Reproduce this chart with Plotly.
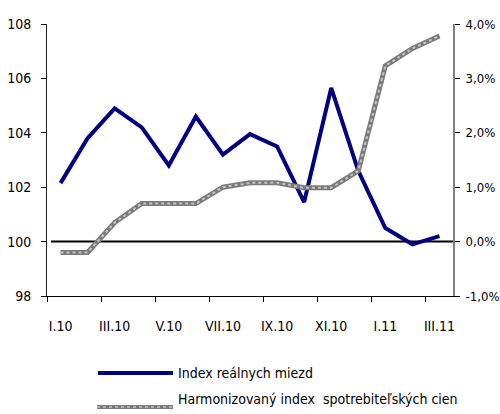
import plotly.graph_objects as go

months = ["I.10", "II.10", "III.10", "IV.10", "V.10", "VI.10", "VII.10", "VIII.10",
          "IX.10", "X.10", "XI.10", "XII.10", "I.11", "II.11", "III.11"]
real_wage_index = [102.15, 103.8, 104.9, 104.2, 102.8, 104.6, 103.2, 103.95,
                   103.5, 101.45, 105.65, 102.6, 100.5, 99.9, 100.2]
hicp_pct = [-0.2, -0.2, 0.35, 0.7, 0.7, 0.7, 1.0, 1.08, 1.08, 0.99, 0.99, 1.3,
            3.23, 3.55, 3.78]
left_ticks = [98, 100, 102, 104, 106, 108]
right_tickvals = [-1, 0, 1, 2, 3, 4]
right_ticktext = ["-1,0%", "0,0%", "1,0%", "2,0%", "3,0%", "4,0%"]
name_wage = "Index reálnych miezd"
name_hicp = "Harmonizovaný index  spotrebiteľských cien"

W, H = 500, 414
L, R, T, B = 47, 47, 24, 118
PW, PH = W - L - R, H - T - B


def px(x):
    return (x - L) / PW


def py(y):
    return (H - B - y) / PH


FONT = "DejaVu Sans Condensed"
FS = 14

fig = go.Figure()
fig.add_trace(go.Scatter(x=months, y=hicp_pct, yaxis="y2", mode="lines",
                         line=dict(color="#7a7a7a", width=5), showlegend=False,
                         hoverinfo="skip"))
fig.add_trace(go.Scatter(x=months, y=hicp_pct, yaxis="y2", mode="lines",
                         line=dict(color="#c4c4c4", width=2, dash="dot"),
                         name=name_hicp, showlegend=False))
fig.add_trace(go.Scatter(x=months, y=real_wage_index, mode="lines",
                         line=dict(color="#000080", width=4), name=name_wage,
                         showlegend=False))

fig.add_shape(type="line", xref="paper", yref="y", x0=px(51), x1=1.0, y0=100, y1=100,
              line=dict(color="black", width=2), layer="below")

# manual legend
fig.add_shape(type="line", xref="paper", yref="paper", x0=px(98), x1=px(173),
              y0=py(373), y1=py(373), line=dict(color="#000080", width=4))
fig.add_shape(type="line", xref="paper", yref="paper", x0=px(97), x1=px(173),
              y0=py(407), y1=py(407), line=dict(color="#7a7a7a", width=4))
fig.add_shape(type="line", xref="paper", yref="paper", x0=px(97), x1=px(173),
              y0=py(407), y1=py(407), line=dict(color="#c4c4c4", width=1.5, dash="dot"))
fig.add_annotation(xref="paper", yref="paper", x=px(176), y=py(373), text=name_wage,
                   showarrow=False, xanchor="left", yanchor="middle",
                   font=dict(family=FONT, size=FS, color="black"))
fig.add_annotation(xref="paper", yref="paper", x=px(176), y=py(399), text=name_hicp,
                   showarrow=False, xanchor="left", yanchor="middle",
                   font=dict(family=FONT, size=FS, color="black"))

fig.update_layout(
    width=W, height=H,
    margin=dict(l=L, r=R, t=T, b=B, pad=0, autoexpand=False),
    paper_bgcolor="white", plot_bgcolor="white",
    font=dict(family=FONT, size=FS, color="black"),
    showlegend=False,
    xaxis=dict(type="category", tickmode="linear", tick0=0, dtick=2,
               tickson="boundaries", range=[-0.5, 14.5], tickangle=0,
               automargin=False,
               showline=True, linecolor="black", linewidth=1,
               ticks="outside", ticklen=5, tickcolor="black",
               showgrid=False, zeroline=False, ticklabelstandoff=17,
               tickfont=dict(family=FONT, size=FS)),
    yaxis=dict(range=[98, 108], tickvals=left_ticks, showline=True,
               automargin=False,
               linecolor="#222222", linewidth=1, ticks="outside", ticklen=5,
               tickcolor="black", showgrid=False, zeroline=False,
               ticklabelstandoff=7, tickfont=dict(family=FONT, size=FS)),
    yaxis2=dict(range=[-1, 4], overlaying="y", side="right",
                tickvals=right_tickvals, ticktext=right_ticktext,
                automargin=False,
                showline=True, linecolor="#808080", linewidth=2,
                ticks="outside", ticklen=5, tickcolor="black",
                showgrid=False, zeroline=False, ticklabelstandoff=3,
                tickfont=dict(family=FONT, size=13)),
)

fig.write_html("out.html",
               config={"displayModeBar": False},
               post_script="document.body.style.margin='0';"
                           "document.body.style.overflow='hidden';")
